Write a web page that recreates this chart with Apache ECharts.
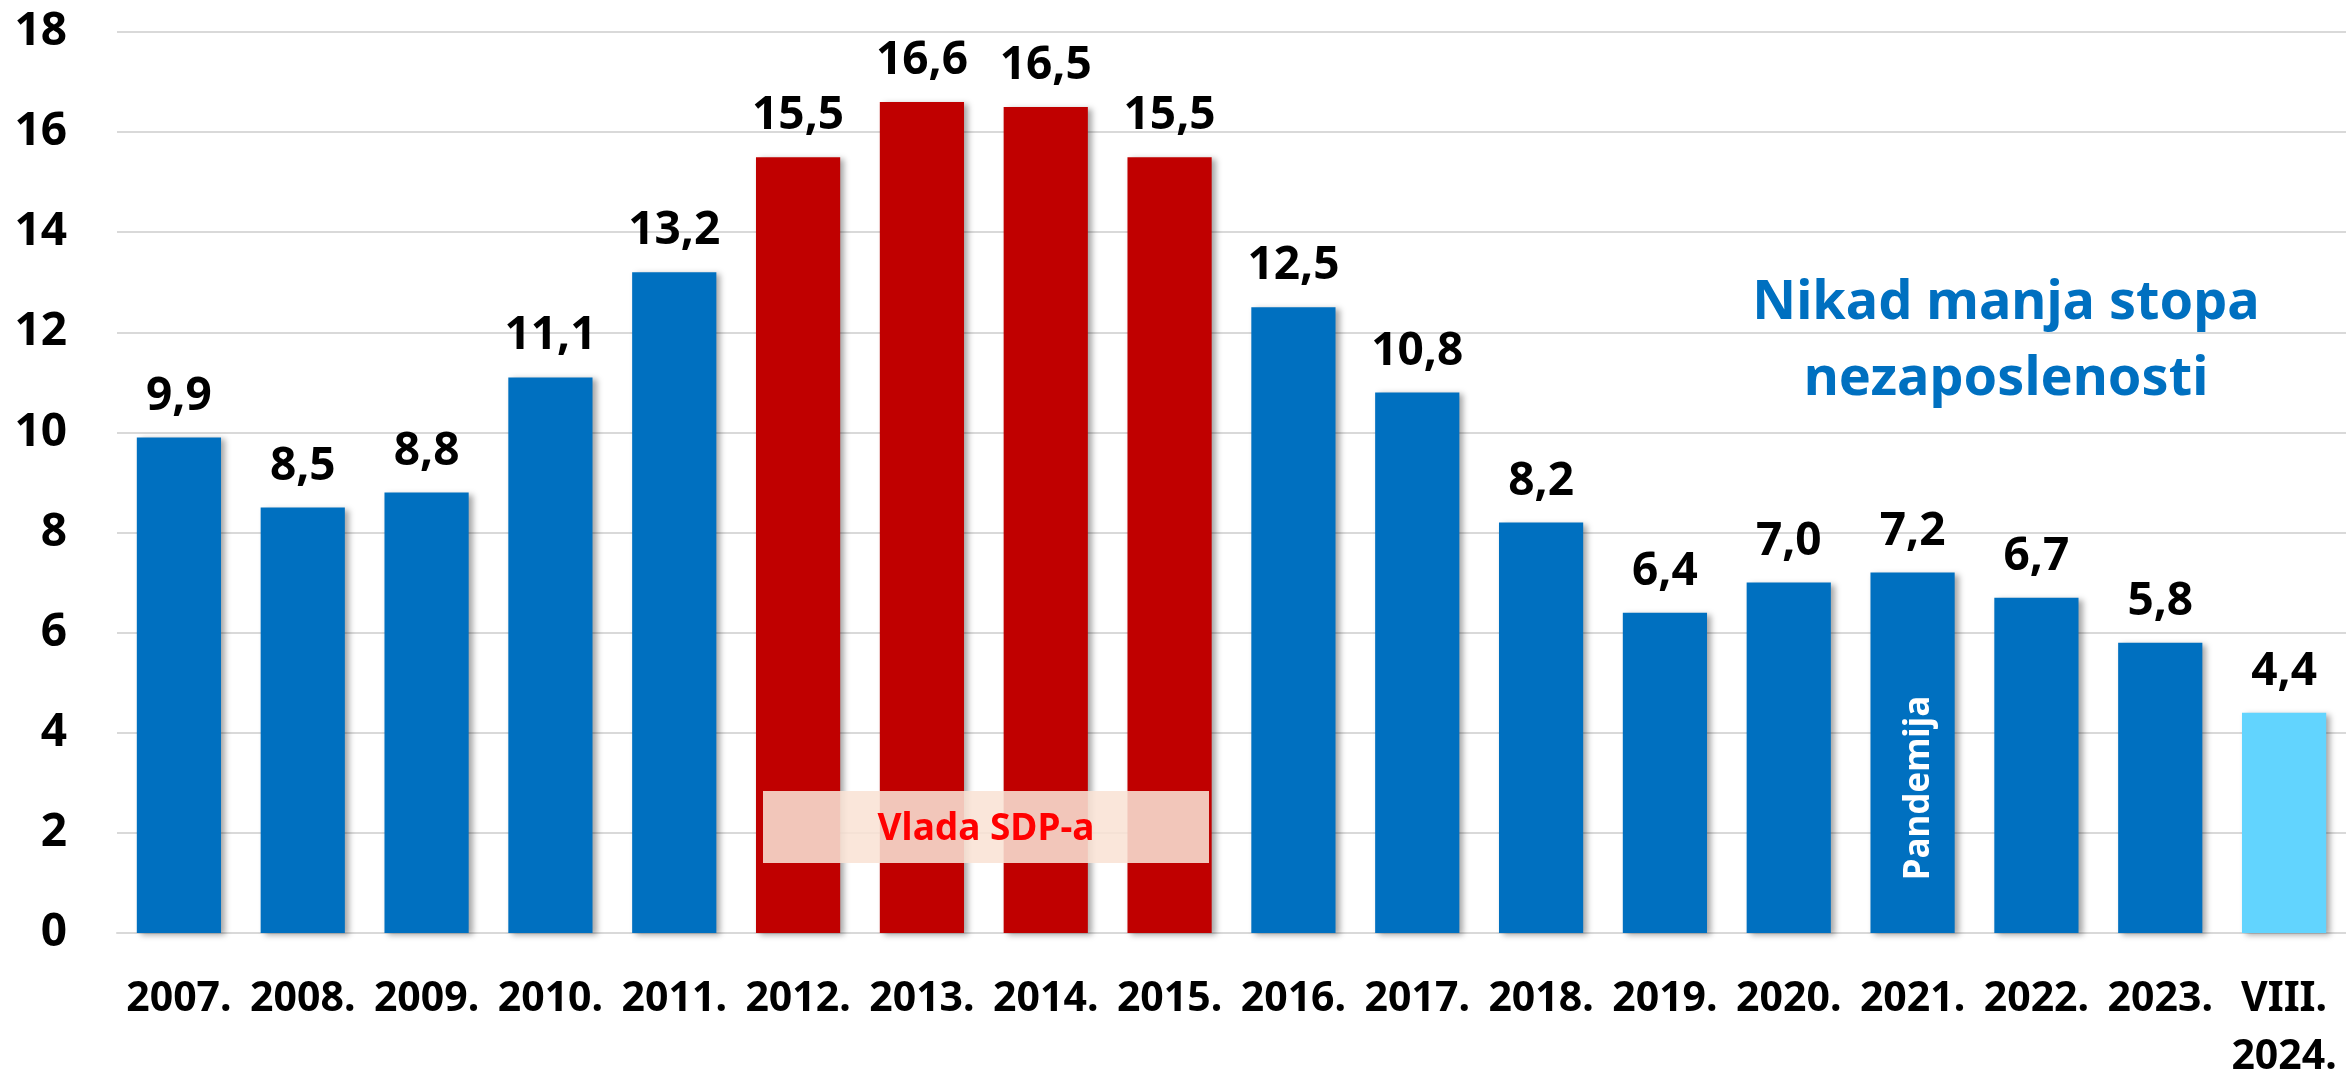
<!DOCTYPE html>
<html>
<head>
<meta charset="utf-8">
<script src="https://cdn.jsdelivr.net/npm/echarts@6/dist/echarts.min.js"></script>
<style>
html,body{margin:0;padding:0;background:#fff;}
#chart{width:2346px;height:1073px;}
</style>
</head>
<body>
<div id="chart"></div>
<script>
var categories = ['2007.','2008.','2009.','2010.','2011.','2012.','2013.','2014.','2015.','2016.','2017.','2018.','2019.','2020.','2021.','2022.','2023.','VIII.\n2024.'];
var values = [9.9, 8.5, 8.8, 11.1, 13.2, 15.5, 16.6, 16.5, 15.5, 12.5, 10.8, 8.2, 6.4, 7.0, 7.2, 6.7, 5.8, 4.4];
var sdpYears = ['2012.','2013.','2014.','2015.'];
var latest = 'VIII.\n2024.';

var FONT = '"Noto Sans", sans-serif';
var chart = echarts.init(document.getElementById('chart'));

var option = {
	backgroundColor: '#fff',
	animation: false,
	grid: {
		left: 117,
		right: 0,
		top: 32,
		bottom: 140,
		outerBoundsMode: 'none'
	},
	xAxis: {
		type: 'category',
		data: categories,
		axisTick: {show: false},
		axisLine: {lineStyle: {color: '#d9d9d9', width: 2}},
		axisLabel: {
			color: '#000',
			fontFamily: FONT,
			fontWeight: 'bold',
			fontSize: 41,
			lineHeight: 58,
			margin: 37,
			interval: 0
		}
	},
	yAxis: {
		type: 'value',
		min: 0,
		max: 18,
		interval: 2,
		axisLine: {show: false},
		axisTick: {show: false},
		splitLine: {lineStyle: {color: '#d9d9d9', width: 2}},
		axisLabel: {
			color: '#000',
			fontFamily: FONT,
			fontWeight: 'bold',
			fontSize: 46,
			margin: 50
		}
	},
	series: [{
		type: 'bar',
		data: values,
		barWidth: '68%',
		itemStyle: {
			color: function (p) {
				if (sdpYears.indexOf(p.name) >= 0) return '#c00000';
				if (p.name === latest) return '#62d4fe';
				return '#0070c0';
			},
			shadowColor: 'rgba(0,0,0,0.35)',
			shadowBlur: 6,
			shadowOffsetX: 4,
			shadowOffsetY: 2
		},
		label: {
			show: true,
			position: 'top',
			distance: 18,
			color: '#000',
			fontFamily: FONT,
			fontWeight: 'bold',
			fontSize: 46,
			formatter: function (p) {
				return p.value.toFixed(1).replace('.', ',');
			}
		}
	}],
	graphic: [
		{
			type: 'rect',
			shape: {x: 763, y: 791, width: 446, height: 72},
			style: {fill: 'rgba(249,226,213,0.875)'},
			z: 10
		},
		{
			type: 'text',
			x: 986,
			y: 829,
			style: {
				text: 'Vlada SDP-a',
				fill: '#ff0000',
				font: 'bold 37px ' + FONT,
				align: 'center',
				verticalAlign: 'middle',
				shadowColor: 'rgba(0,0,0,0.35)',
				shadowBlur: 3,
				shadowOffsetX: 2,
				shadowOffsetY: 2
			},
			z: 11
		},
		{
			type: 'text',
			x: 1919,
			y: 788,
			rotation: Math.PI / 2,
			style: {
				text: 'Pandemija',
				fill: '#fff',
				font: 'bold 35px ' + FONT,
				align: 'center',
				verticalAlign: 'middle'
			},
			z: 11
		},
		{
			type: 'text',
			x: 2006,
			y: 342,
			style: {
				text: 'Nikad manja stopa\nnezaposlenosti',
				fill: '#0070c0',
				font: 'bold 54px ' + FONT,
				lineHeight: 76,
				align: 'center',
				verticalAlign: 'middle'
			},
			z: 11
		}
	]
};
chart.setOption(option);
</script>
</body>
</html>
